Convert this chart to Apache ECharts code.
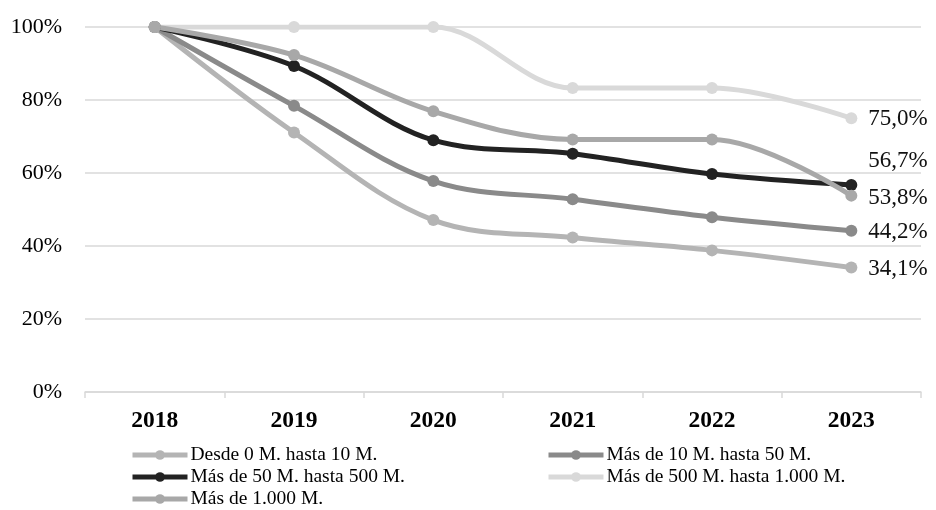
<!DOCTYPE html>
<html>
<head>
<meta charset="utf-8">
<script src="https://cdn.jsdelivr.net/npm/echarts@6/dist/echarts.min.js"></script>
<style>
  html, body { margin: 0; padding: 0; background: #fff; }
  #chart { width: 936px; height: 510px; }
</style>
</head>
<body>
<div id="chart"></div>
<script>
// Years on the horizontal axis
const years = ['2018', '2019', '2020', '2021', '2022', '2023'];

// Share (%) remaining per size bracket, relative to 2018
const desde0hasta10 = [100, 71.1, 47.1, 42.3, 38.8, 34.1];
const mas10hasta50 = [100, 78.4, 57.8, 52.8, 47.9, 44.2];
const mas50hasta500 = [100, 89.3, 69.0, 65.3, 59.7, 56.7];
const mas500hasta1000 = [100, 100, 100, 83.3, 83.3, 75.0];
const mas1000 = [100, 92.3, 76.9, 69.2, 69.2, 53.8];

const seriesNames = [
  'Desde 0 M. hasta 10 M.',
  'Más de 10 M. hasta 50 M.',
  'Más de 50 M. hasta 500 M.',
  'Más de 500 M. hasta 1.000 M.',
  'Más de 1.000 M.'
];
const seriesValues = [desde0hasta10, mas10hasta50, mas50hasta500, mas500hasta1000, mas1000];

// Styling per series (kept separate from the values)
const seriesColors = ['#b4b4b4', '#8a8a8a', '#222222', '#d9d9d9', '#a8a8a8'];
const endLabelShift = [[0, 1], [0, 1], [0, -24], [0, 1], [0, 2]];
// Legend slots: [left, top]
const legendSlots = [[130, 445], [546, 445], [130, 467], [546, 467], [130, 489]];

const FONT = '"Liberation Serif", "Times New Roman", serif';

function fmtPct(v) {
  return v.toFixed(1).replace('.', ',') + '%';
}

// Only the final year carries a value label
function withEndLabel(values, shift) {
  const last = values.length - 1;
  return values.map((v, i) => i === last
    ? { value: v, label: { show: true, offset: shift } }
    : v);
}

const series = seriesNames.map((name, i) => ({
  name: name,
  type: 'line',
  data: withEndLabel(seriesValues[i], endLabelShift[i]),
  smooth: 0.35,
  symbol: 'circle',
  symbolSize: 12,
  lineStyle: { width: 5, color: seriesColors[i] },
  itemStyle: { color: seriesColors[i] },
  label: {
    show: false,
    position: 'right',
    distance: 11,
    fontFamily: FONT,
    fontSize: 23,
    color: '#111',
    formatter: p => fmtPct(p.value)
  },
  emphasis: { disabled: true }
}));

const legends = seriesNames.map((name, i) => ({
  data: [name],
  left: legendSlots[i][0],
  top: legendSlots[i][1],
  padding: 0,
  itemWidth: 55,
  itemHeight: 12,
  itemGap: 0,
  lineStyle: { width: 5 },
  textStyle: { fontFamily: FONT, fontSize: 19.5, color: '#000', padding: [0, 0, 0, -2] },
  selectedMode: false
}));

const chart = echarts.init(document.getElementById('chart'));
chart.setOption({
  animation: false,
  backgroundColor: '#fff',
  grid: { left: 85, right: 15, top: 27, bottom: 118 },
  xAxis: {
    type: 'category',
    data: years,
    boundaryGap: true,
    axisLine: { lineStyle: { color: '#d9d9d9', width: 1.5 } },
    axisTick: { show: true, length: 6, lineStyle: { color: '#d9d9d9', width: 1.5 } },
    axisLabel: {
      margin: 17,
      fontFamily: FONT,
      fontSize: 23.5,
      fontWeight: 'bold',
      color: '#000'
    }
  },
  yAxis: {
    type: 'value',
    min: 0,
    max: 100,
    interval: 20,
    axisLine: { show: false },
    axisTick: { show: false },
    axisLabel: {
      margin: 23,
      fontFamily: FONT,
      fontSize: 22,
      color: '#000',
      formatter: '{value}%'
    },
    splitLine: { lineStyle: { color: '#d9d9d9', width: 1.5 } }
  },
  legend: legends,
  series: series
});
</script>
</body>
</html>
